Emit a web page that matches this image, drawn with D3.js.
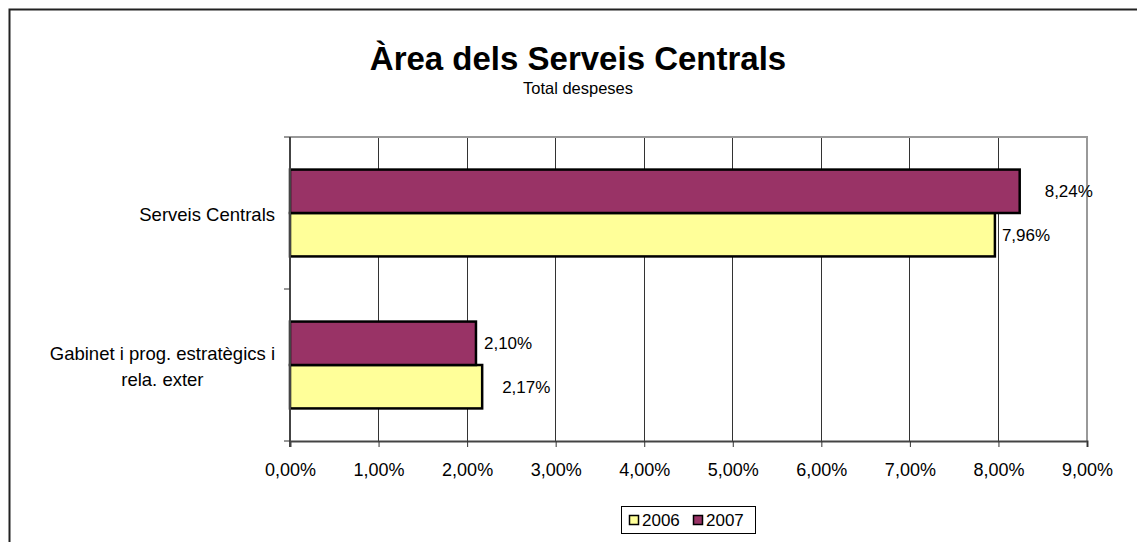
<!DOCTYPE html>
<html>
<head>
<meta charset="utf-8">
<script src="https://cdn.jsdelivr.net/npm/d3@7"></script>
<style>
  html, body { margin: 0; padding: 0; background: #fff; }
  svg { display: block; font-family: "Liberation Sans", Arial, sans-serif; }
</style>
</head>
<body>
<svg id="chart" width="1137" height="542"></svg>
<script>
// ---- data ----
const categories = ["Serveis Centrals", "Gabinet i prog. estratègics i rela. exter"];
const categoryLines = [["Serveis Centrals"], ["Gabinet i prog. estratègics i", "rela. exter"]];
const seriesNames = ["2006", "2007"];
const values2006 = [7.96, 2.17];
const values2007 = [8.24, 2.10];
const xTicks = [0, 1, 2, 3, 4, 5, 6, 7, 8, 9];
const titleText = "Àrea dels Serveis Centrals";
const subtitleText = "Total despeses";

// ---- layout / style (not data) ----
const colors = { "2006": "#FFFF99", "2007": "#993366" };
const labelDx = { "2006": [7, 20], "2007": [25, 8] };
const plot = { left: 290, right: 1087, top: 137, bottom: 441 };

const svg = d3.select("#chart");
const fmt = v => d3.format(".2f")(v).replace(".", ",") + "%";

// outer frame
svg.append("rect").attr("x", 9.5).attr("y", 9.5).attr("width", 1140).attr("height", 540)
  .attr("fill", "#fff").attr("stroke", "#222").attr("stroke-width", 2);

// title
svg.append("text").attr("x", 578).attr("y", 70).attr("text-anchor", "middle")
  .attr("font-size", 33).attr("font-weight", "bold").text(titleText);
svg.append("text").attr("x", 578).attr("y", 94).attr("text-anchor", "middle")
  .attr("font-size", 16.5).text(subtitleText);

// scales
const x = d3.scaleLinear().domain([0, 9]).range([plot.left, plot.right]);
const y = d3.scaleBand().domain(categories).range([plot.top, plot.bottom])
  .paddingInner(0.4286).paddingOuter(0.2143);
const ySub = d3.scaleBand().domain(["2007", "2006"]).range([0, y.bandwidth()]);

// gridlines
svg.append("g").selectAll("line").data(xTicks.slice(1, -1)).join("line")
  .attr("x1", d => x(d)).attr("x2", d => x(d))
  .attr("y1", plot.top).attr("y2", plot.bottom)
  .attr("stroke", "#333").attr("stroke-width", 1).attr("shape-rendering", "crispEdges");
// plot border top/right
svg.append("path")
  .attr("d", `M${plot.left},${plot.top}H${plot.right}V${plot.bottom}`)
  .attr("fill", "none").attr("stroke", "#999").attr("stroke-width", 2);

// bars
const rows = categories.map((c, i) => ({ cat: c, i, "2006": values2006[i], "2007": values2007[i] }));
const barData = [];
rows.forEach(r => seriesNames.forEach(s => barData.push({ cat: r.cat, i: r.i, s, v: r[s] })));

svg.append("g").selectAll("rect").data(barData).join("rect")
  .attr("x", x(0))
  .attr("y", d => y(d.cat) + ySub(d.s))
  .attr("width", d => x(d.v) - x(0))
  .attr("height", ySub.bandwidth())
  .attr("fill", d => colors[d.s])
  .attr("stroke", "#000").attr("stroke-width", 2.5);

// data labels
svg.append("g").selectAll("text").data(barData).join("text")
  .attr("x", d => x(d.v) + labelDx[d.s][d.i])
  .attr("y", d => y(d.cat) + ySub(d.s) + ySub.bandwidth() / 2)
  .attr("dy", "0.35em").attr("font-size", 17).attr("fill", "#000")
  .text(d => fmt(d.v));

// x axis
const xAxis = d3.axisBottom(x).tickValues(xTicks).tickFormat(fmt).tickSize(6).tickPadding(16);
const gx = svg.append("g").attr("transform", `translate(0,${plot.bottom})`).call(xAxis);
gx.select(".domain").attr("stroke", "#444").attr("stroke-width", 2);
gx.selectAll(".tick line").attr("stroke", "#333");
gx.selectAll("text").attr("font-size", 18).attr("font-family", "Liberation Sans, Arial, sans-serif").attr("fill", "#000");

// y axis line & ticks at category boundaries
const yBounds = [plot.top, (plot.top + plot.bottom) / 2, plot.bottom];
svg.append("line").attr("x1", plot.left).attr("x2", plot.left).attr("y1", plot.top).attr("y2", plot.bottom + 6)
  .attr("stroke", "#444").attr("stroke-width", 2);
svg.append("g").selectAll("line").data(yBounds).join("line")
  .attr("x1", plot.left - 6).attr("x2", plot.left).attr("y1", d => d).attr("y2", d => d)
  .attr("stroke", "#333").attr("stroke-width", 1);

// category labels (right-aligned block, lines centered)
categories.forEach((c, i) => {
  const lines = categoryLines[i];
  const g = svg.append("g");
  const lh = 26;
  const cy = y(c) + y.bandwidth() / 2;
  const texts = lines.map((l, k) => g.append("text")
    .attr("y", cy + 2 + (k - (lines.length - 1) / 2) * lh)
    .attr("dy", "0.35em").attr("font-size", 18.5).attr("text-anchor", "middle").text(l));
  const maxW = d3.max(texts, t => t.node().getComputedTextLength());
  texts.forEach(t => t.attr("x", 275 - maxW / 2));
});

// legend
const lg = svg.append("g");
lg.append("rect").attr("x", 621.5).attr("y", 506.5).attr("width", 134).attr("height", 27)
  .attr("fill", "#fff").attr("stroke", "#000").attr("stroke-width", 1);
const legendX = [629, 693];
seriesNames.forEach((s, k) => {
  lg.append("rect").attr("x", legendX[k] + 0.5).attr("y", 515.5).attr("width", 9).attr("height", 9)
    .attr("fill", colors[s]).attr("stroke", "#000").attr("stroke-width", 1.5);
  lg.append("text").attr("x", legendX[k] + 13).attr("y", 520).attr("dy", "0.35em")
    .attr("font-size", 17).text(s);
});
</script>
</body>
</html>
